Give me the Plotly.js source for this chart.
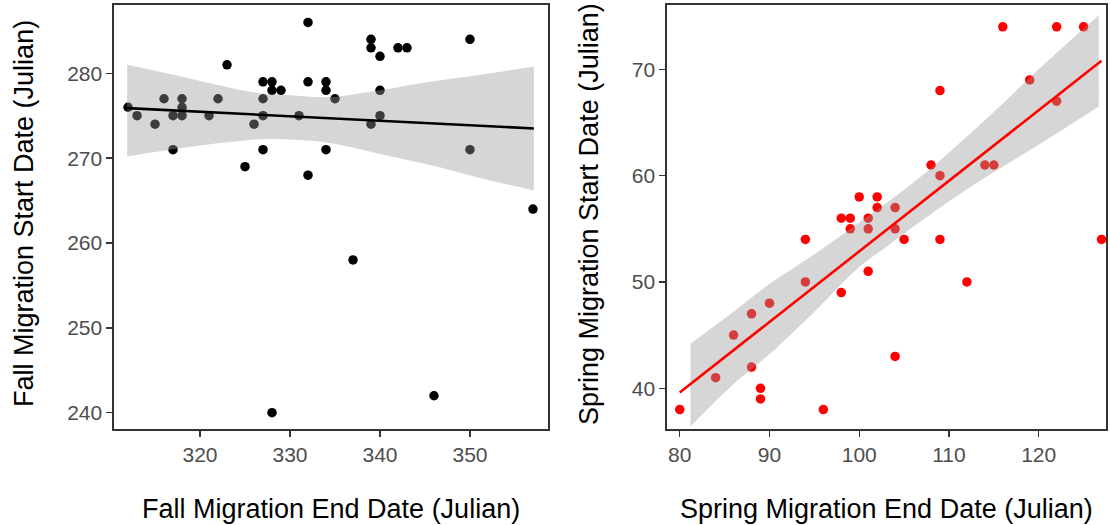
<!DOCTYPE html>
<html>
<head>
<meta charset="utf-8">
<script src="https://cdn.plot.ly/plotly-3.0.1.min.js"></script>
<style>
  html, body { margin: 0; padding: 0; background: #fff; }
  #chart { width: 1110px; height: 525px; }
</style>
</head>
<body>
<div id="chart"></div>
<script>
// ---------- Data ----------
var fallEnd   = [312,313,315,316,317,317,318,318,318,321,322,323,325,326,327,327,327,327,328,328,329,331,332,332,332,334,334,334,335,339,339,340,342,343,340,340,339,350,350,357,337,328,346];
var fallStart = [276,275,274,277,275,271,277,276,275,275,277,281,269,274,279,277,275,271,279,278,278,275,286,279,268,279,278,271,277,284,283,282,283,283,278,275,274,284,271,264,258,240,242];

var fallFitX = [311.9, 357.1];
var fallFitY = [275.9, 273.5];
var fallBandX  = [311.9, 318, 326.3, 330, 334.4, 340, 345.6, 351, 357.1];
var fallBandLo = [270.2, 271.2, 272.2, 272.2, 271.8, 270.5, 269.2, 267.7, 266.2];
var fallBandHi = [281.0, 279.6, 277.7, 277.4, 277.2, 278.0, 279.0, 279.8, 280.8];

var springEnd   = [80,84,86,88,88,89,89,90,94,94,96,98,98,99,99,100,101,101,101,102,102,104,104,104,105,108,109,109,109,112,114,115,116,119,122,122,125,127];
var springStart = [38,41,45,47,42,40,39,48,54,50,38,49,56,56,55,58,56,55,51,58,57,57,55,43,54,61,68,60,54,50,61,61,74,69,74,67,74,54];

var springFitX = [80, 127];
var springFitY = [39.6, 70.8];
var springBandX  = [81.2, 86, 90, 95, 100, 103, 108, 114, 120, 126.7];
var springBandLo = [36.4, 40.4, 43.2, 47.2, 51.4, 53.3, 56.4, 59.8, 62.9, 66.5];
var springBandHi = [44.2, 47.2, 49.8, 52.6, 55.6, 57.4, 60.7, 65.2, 70.0, 75.1];

var xTicksFall = [320, 330, 340, 350];
var yTicksFall = [240, 250, 260, 270, 280];
var xTicksSpring = [80, 90, 100, 110, 120];
var yTicksSpring = [40, 50, 60, 70];

var titles = {
  fallX: 'Fall Migration End Date (Julian)',
  fallY: 'Fall Migration Start Date (Julian)',
  springX: 'Spring Migration End Date (Julian)',
  springY: 'Spring Migration Start Date (Julian)'
};

// ---------- Traces ----------
var ribbon = 'rgba(153,153,153,0.4)';
var traces = [
  {x: fallEnd, y: fallStart, xaxis: 'x', yaxis: 'y', type: 'scatter', mode: 'markers',
   marker: {color: '#000000', size: 9.5}, hoverinfo: 'skip'},
  {x: fallBandX, y: fallBandLo, xaxis: 'x', yaxis: 'y', type: 'scatter', mode: 'lines',
   line: {width: 0, color: 'rgba(0,0,0,0)', shape: 'spline'}, hoverinfo: 'skip'},
  {x: fallBandX, y: fallBandHi, xaxis: 'x', yaxis: 'y', type: 'scatter', mode: 'lines',
   line: {width: 0, color: 'rgba(0,0,0,0)', shape: 'spline'}, fill: 'tonexty', fillcolor: ribbon, hoverinfo: 'skip'},
  {x: fallFitX, y: fallFitY, xaxis: 'x', yaxis: 'y', type: 'scatter', mode: 'lines',
   line: {width: 2.6, color: '#000000'}, hoverinfo: 'skip'},

  {x: springEnd, y: springStart, xaxis: 'x2', yaxis: 'y2', type: 'scatter', mode: 'markers',
   marker: {color: '#FF0000', size: 9.5}, hoverinfo: 'skip'},
  {x: springBandX, y: springBandLo, xaxis: 'x2', yaxis: 'y2', type: 'scatter', mode: 'lines',
   line: {width: 0, color: 'rgba(0,0,0,0)', shape: 'spline'}, hoverinfo: 'skip'},
  {x: springBandX, y: springBandHi, xaxis: 'x2', yaxis: 'y2', type: 'scatter', mode: 'lines',
   line: {width: 0, color: 'rgba(0,0,0,0)', shape: 'spline'}, fill: 'tonexty', fillcolor: ribbon, hoverinfo: 'skip'},
  {x: springFitX, y: springFitY, xaxis: 'x2', yaxis: 'y2', type: 'scatter', mode: 'lines',
   line: {width: 2.6, color: '#FF0000'}, hoverinfo: 'skip'}
];

// ---------- Layout ----------
var W = 1110, H = 525;
var tickFont = {family: 'Liberation Sans, Arial, sans-serif', size: 21, color: '#4D4D4D'};
var titleFont = {family: 'Liberation Sans, Arial, sans-serif', size: 27, color: '#000000'};

function axisBase(extra) {
  var a = {
    showgrid: false, zeroline: false,
    showline: true, mirror: true, linecolor: '#333333', linewidth: 1.6,
    ticks: 'outside', ticklen: 6, tickwidth: 1.4, tickcolor: '#333333',
    tickfont: tickFont, tickmode: 'array', fixedrange: true
  };
  for (var k in extra) a[k] = extra[k];
  return a;
}

var pL = [114, 548], pR = [667, 1106], pY = [5, 429];

var layout = {
  width: W, height: H,
  margin: {l: 0, r: 0, t: 0, b: 0},
  paper_bgcolor: '#FFFFFF', plot_bgcolor: '#FFFFFF',
  showlegend: false,
  xaxis: axisBase({domain: [pL[0]/W, pL[1]/W], range: [310.44, 358.67], anchor: 'y',
    tickvals: xTicksFall, ticktext: xTicksFall.map(String)}),
  yaxis: axisBase({domain: [(H - pY[1])/H, (H - pY[0])/H], range: [238.08, 288.05], anchor: 'x',
    tickvals: yTicksFall, ticktext: yTicksFall.map(String)}),
  xaxis2: axisBase({domain: [pR[0]/W, pR[1]/W], range: [78.58, 127.5], anchor: 'y2',
    tickvals: xTicksSpring, ticktext: xTicksSpring.map(String)}),
  yaxis2: axisBase({domain: [(H - pY[1])/H, (H - pY[0])/H], range: [36.17, 76.05], anchor: 'x2',
    tickvals: yTicksSpring, ticktext: yTicksSpring.map(String)}),
  annotations: [
    {text: titles.fallX, xref: 'paper', yref: 'paper', x: (pL[0]+pL[1])/2/W, y: 1 - 509/H,
     xanchor: 'center', yanchor: 'middle', showarrow: false, font: titleFont},
    {text: titles.springX, xref: 'paper', yref: 'paper', x: (pR[0]+pR[1])/2/W, y: 1 - 509/H,
     xanchor: 'center', yanchor: 'middle', showarrow: false, font: titleFont},
    {text: titles.fallY, xref: 'paper', yref: 'paper', x: 24/W, y: 1 - 214/H, textangle: -90,
     xanchor: 'center', yanchor: 'middle', showarrow: false, font: titleFont},
    {text: titles.springY, xref: 'paper', yref: 'paper', x: 589/W, y: 1 - 214/H, textangle: -90,
     xanchor: 'center', yanchor: 'middle', showarrow: false, font: titleFont}
  ]
};

Plotly.newPlot('chart', traces, layout, {displayModeBar: false, staticPlot: true});
</script>
</body>
</html>
